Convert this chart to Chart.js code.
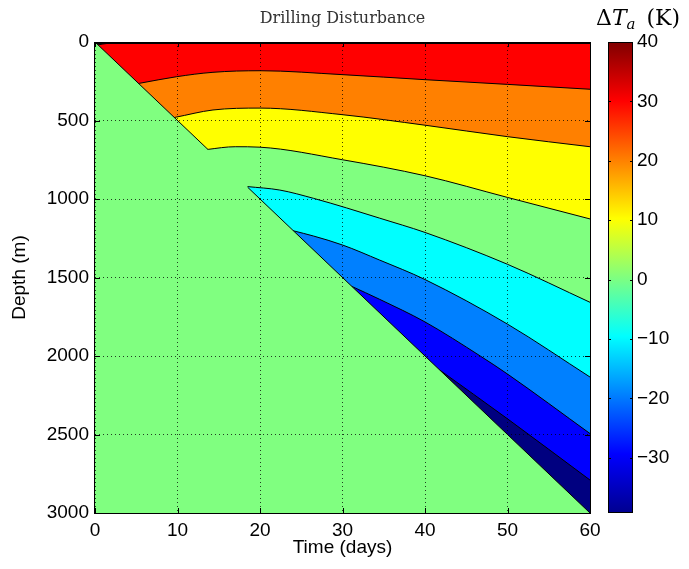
<!DOCTYPE html>
<html>
<head>
<meta charset="utf-8">
<title>Drilling Disturbance</title>
<script src="https://cdn.jsdelivr.net/npm/chart.js@4.4.1/dist/chart.umd.min.js"></script>
<style>
    html, body { margin: 0; padding: 0; background: #fff; }
    #wrap { position: relative; width: 689px; height: 569px; }
    #mainBox { position: absolute; left: 0; top: 0; width: 689px; height: 569px; }
    #barBox { position: absolute; left: 590px; top: 0; width: 99px; height: 569px; }
</style>
</head>
<body>
<div id="wrap">
    <div id="mainBox"><canvas id="contourChart"></canvas></div>
    <div id="barBox"><canvas id="colorbarChart"></canvas></div>
</div>
<script>
// Axis ticks
const timeTicks = [0, 10, 20, 30, 40, 50, 60];
const depthTicks = [0, 500, 1000, 1500, 2000, 2500, 3000];
const colorTicks = [-30, -20, -10, 0, 10, 20, 30, 40];
const colorRange = [-39.3, 40];

// Drill front: depth reached (m) vs time (days)
const frontTime = [0, 60];
const frontDepth = [0, 3000];
// parts of the front that bound a coloured band
const frontWarmTime = [0, 13.7];
const frontWarmDepth = [0, 685];
const frontColdTime = [18.5, 60];
const frontColdDepth = [925, 3000];

// Contour lines, time (days) / depth (m)
// warm side (first point lies below the front and is hidden by it)
const c30Time = [0, 0.4, 1.5, 3.4];
const c30Depth = [24, 18, 9, 0];
const c20Time = [0, 5.4, 9.9, 14.3, 20, 30, 40, 50, 60];
const c20Depth = [315, 263, 221, 193, 183, 208, 240, 270, 301];
const c10Time = [0, 9.7, 14.3, 20, 30, 40, 50, 60];
const c10Depth = [575, 480, 433, 421, 463, 530, 603, 667];
const c0Time = [0, 13.7, 17, 20, 30, 40, 50, 60];
const c0Depth = [790, 684, 667, 670, 750, 852, 990, 1127];
// cold side
const cm10Time = [18.5, 22.4, 26.5, 30.5, 34.5, 40, 50, 60];
const cm10Depth = [921, 943, 996, 1057, 1122, 1213, 1416, 1658];
const cm20Time = [24, 26.5, 30, 34.5, 40, 50, 60];
const cm20Depth = [1202, 1236, 1293, 1389, 1513, 1797, 2134];
const cm30Time = [31.1, 34.5, 40, 46.7, 50, 60];
const cm30Depth = [1556, 1639, 1783, 2000, 2115, 2494];
const cm40Time = [41.8, 50, 60];
const cm40Depth = [2090, 2400, 2790];

// Colours
const bandColors = {
    darkRed: '#800000',
    red: '#ff0000',
    orange: '#ff8000',
    yellow: '#ffff00',
    green: '#80ff80',
    cyan: '#00ffff',
    lightBlue: '#0080ff',
    blue: '#0000ff',
    darkBlue: '#000080'
};
const jetStops = [[0, '#00008f'], [0.125, '#0000ff'], [0.375, '#00ffff'],
    [0.625, '#ffff00'], [0.875, '#ff0000'], [1, '#800000']];

const sansFont = { family: '"Liberation Sans", Arial, sans-serif', size: 19 };
const plainNumber = v => String(v);

function toPoints(times, depths) {
    return times.map((t, i) => ({ x: t, y: depths[i] }));
}

/**
 * Filled band: from a contour line to the surface (0) or to the bottom (3000)
 */
function band(label, times, depths, color, edge) {
    return {
        label: label,
        data: toPoints(times, depths),
        backgroundColor: color,
        borderColor: '#000',
        borderWidth: 1,
        fill: { value: edge },
        pointRadius: 0,
        cubicInterpolationMode: 'monotone'
    };
}

function edgeLine(label, times, depths) {
    return {
        label: label,
        data: toPoints(times, depths),
        borderColor: '#000',
        borderWidth: 1,
        fill: false,
        pointRadius: 0
    };
}

// painter's order, first one at the bottom
const layers = [
    band('-10', cm10Time, cm10Depth, bandColors.cyan, 3000),
    band('-20', cm20Time, cm20Depth, bandColors.lightBlue, 3000),
    band('-30', cm30Time, cm30Depth, bandColors.blue, 3000),
    band('-40', cm40Time, cm40Depth, bandColors.darkBlue, 3000),
    band('0', c0Time, c0Depth, bandColors.yellow, 0),
    band('10', c10Time, c10Depth, bandColors.orange, 0),
    band('20', c20Time, c20Depth, bandColors.red, 0),
    band('30', c30Time, c30Depth, bandColors.darkRed, 0),
    Object.assign(band('undisturbed', frontTime, frontDepth, bandColors.green, 3000), { borderWidth: 0 }),
    edgeLine('front warm', frontWarmTime, frontWarmDepth),
    edgeLine('front cold', frontColdTime, frontColdDepth)
];
layers.forEach((ds, i) => { ds.order = layers.length - i; });

const plotBackground = {
    id: 'plotBackground',
    beforeDatasetsDraw(chart) {
        const { ctx, chartArea: a } = chart;
        ctx.save();
        ctx.fillStyle = bandColors.green;
        ctx.fillRect(a.left, a.top, a.width, a.height);
        ctx.restore();
    }
};

// box round the axes with inward tick marks, like the original
const axesFrame = {
    id: 'axesFrame',
    afterDraw(chart) {
        const { ctx, chartArea: a, scales } = chart;
        ctx.save();
        ctx.strokeStyle = '#000';
        ctx.lineWidth = 1;
        ctx.strokeRect(a.left - 0.5, a.top + 0.5, a.width + 1, a.height);
        ctx.beginPath();
        ctx.moveTo(a.left, a.top + 1.5);
        ctx.lineTo(a.right, a.top + 1.5);
        timeTicks.forEach(v => {
            const px = Math.round(scales.x.getPixelForValue(v)) + 0.5;
            ctx.moveTo(px, a.bottom);
            ctx.lineTo(px, a.bottom - 5);
            ctx.moveTo(px, a.top);
            ctx.lineTo(px, a.top + 5);
        });
        depthTicks.forEach(v => {
            const py = Math.round(scales.y.getPixelForValue(v)) + 0.5;
            ctx.moveTo(a.left, py);
            ctx.lineTo(a.left + 5, py);
            ctx.moveTo(a.right, py);
            ctx.lineTo(a.right - 5, py);
        });
        ctx.stroke();
        ctx.restore();
    }
};

new Chart(document.getElementById('contourChart'), {
    type: 'line',
    data: { datasets: layers },
    options: {
        responsive: true,
        maintainAspectRatio: false,
        animation: false,
        layout: { padding: { left: 0, right: 99, top: 0, bottom: 0 } },
        plugins: {
            legend: { display: false },
            tooltip: { enabled: false },
            title: {
                display: true,
                text: 'Drilling Disturbance',
                fullSize: false,
                color: '#333',
                font: { family: '"DejaVu Serif", serif', size: 16, weight: 'normal' },
                padding: { top: 9, bottom: 13.8 }
            }
        },
        scales: {
            x: {
                type: 'linear',
                min: 0,
                max: 60,
                afterBuildTicks: s => { s.ticks = timeTicks.map(v => ({ value: v })); },
                afterFit: s => { s.height = 56; },
                grid: { z: 1, color: 'rgba(0,0,0,0.75)', drawTicks: false },
                border: { display: false, dash: [1, 3] },
                ticks: { padding: 6, color: '#000', font: sansFont, maxRotation: 0, autoSkip: false, callback: plainNumber },
                title: { display: true, text: 'Time (days)', color: '#000', font: sansFont, padding: { top: 0, bottom: 10 } }
            },
            y: {
                type: 'linear',
                reverse: true,
                min: 0,
                max: 3000,
                afterBuildTicks: s => { s.ticks = depthTicks.map(v => ({ value: v })); },
                afterFit: s => { s.width = 95; },
                grid: { z: 1, color: 'rgba(0,0,0,0.75)', drawTicks: false },
                border: { display: false, dash: [1, 3] },
                ticks: { padding: 6, color: '#000', font: sansFont, autoSkip: false, callback: plainNumber },
                title: { display: true, text: 'Depth (m)', color: '#000', font: sansFont, padding: { top: 8, bottom: 0 } }
            }
        }
    },
    plugins: [plotBackground, axesFrame]
});

/**
 * Colour bar
 */
function jetGradient(context) {
    const area = context.chart.chartArea;
    if (!area) return null;
    const g = context.chart.ctx.createLinearGradient(0, area.bottom, 0, area.top);
    jetStops.forEach(([p, c]) => g.addColorStop(p, c));
    return g;
}

const colorbarDecor = {
    id: 'colorbarDecor',
    afterDraw(chart) {
        const { ctx, chartArea: a, scales } = chart;
        ctx.save();
        ctx.strokeStyle = '#000';
        ctx.lineWidth = 1;
        ctx.strokeRect(a.left + 0.5, a.top + 0.5, a.width - 1, a.height - 1);
        ctx.beginPath();
        colorTicks.forEach(v => {
            const py = Math.round(scales.y.getPixelForValue(v)) + 0.5;
            ctx.moveTo(a.left, py);
            ctx.lineTo(a.left + 3, py);
            ctx.moveTo(a.right, py);
            ctx.lineTo(a.right - 3, py);
        });
        ctx.stroke();

        // label: Delta T_a (K)
        const serif = '"DejaVu Serif", serif';
        let x = 6;
        const y = 25;
        ctx.fillStyle = '#000';
        ctx.textBaseline = 'alphabetic';
        ctx.font = '22px ' + serif;
        ctx.fillText('\u0394', x, y);
        x += ctx.measureText('\u0394').width;
        ctx.font = 'italic 22px ' + serif;
        ctx.fillText('T', x, y);
        x += ctx.measureText('T').width;
        ctx.font = 'italic 15px ' + serif;
        ctx.fillText('a', x, y + 4);
        x += ctx.measureText('a').width + 11;
        ctx.font = '22px ' + serif;
        ctx.fillText('(K)', x, y);
        ctx.restore();
    }
};

new Chart(document.getElementById('colorbarChart'), {
    type: 'bar',
    data: {
        labels: ['\u0394T'],
        datasets: [{
            data: [colorRange],
            backgroundColor: jetGradient,
            borderWidth: 0,
            barPercentage: 1,
            categoryPercentage: 1
        }]
    },
    options: {
        responsive: true,
        maintainAspectRatio: false,
        animation: false,
        layout: { padding: { left: 18, right: 0, top: 42, bottom: 56 } },
        plugins: {
            legend: { display: false },
            tooltip: { enabled: false }
        },
        scales: {
            x: { display: false },
            y: {
                position: 'right',
                min: colorRange[0],
                max: colorRange[1],
                afterBuildTicks: s => { s.ticks = colorTicks.map(v => ({ value: v })); },
                afterFit: s => { s.width = 56; },
                grid: { display: false, drawTicks: false },
                border: { display: false },
                ticks: {
                    padding: 4,
                    color: '#000',
                    font: sansFont,
                    callback: v => (v < 0 ? '\u2212' + Math.abs(v) : String(v))
                }
            }
        }
    },
    plugins: [colorbarDecor]
});
</script>
</body>
</html>
